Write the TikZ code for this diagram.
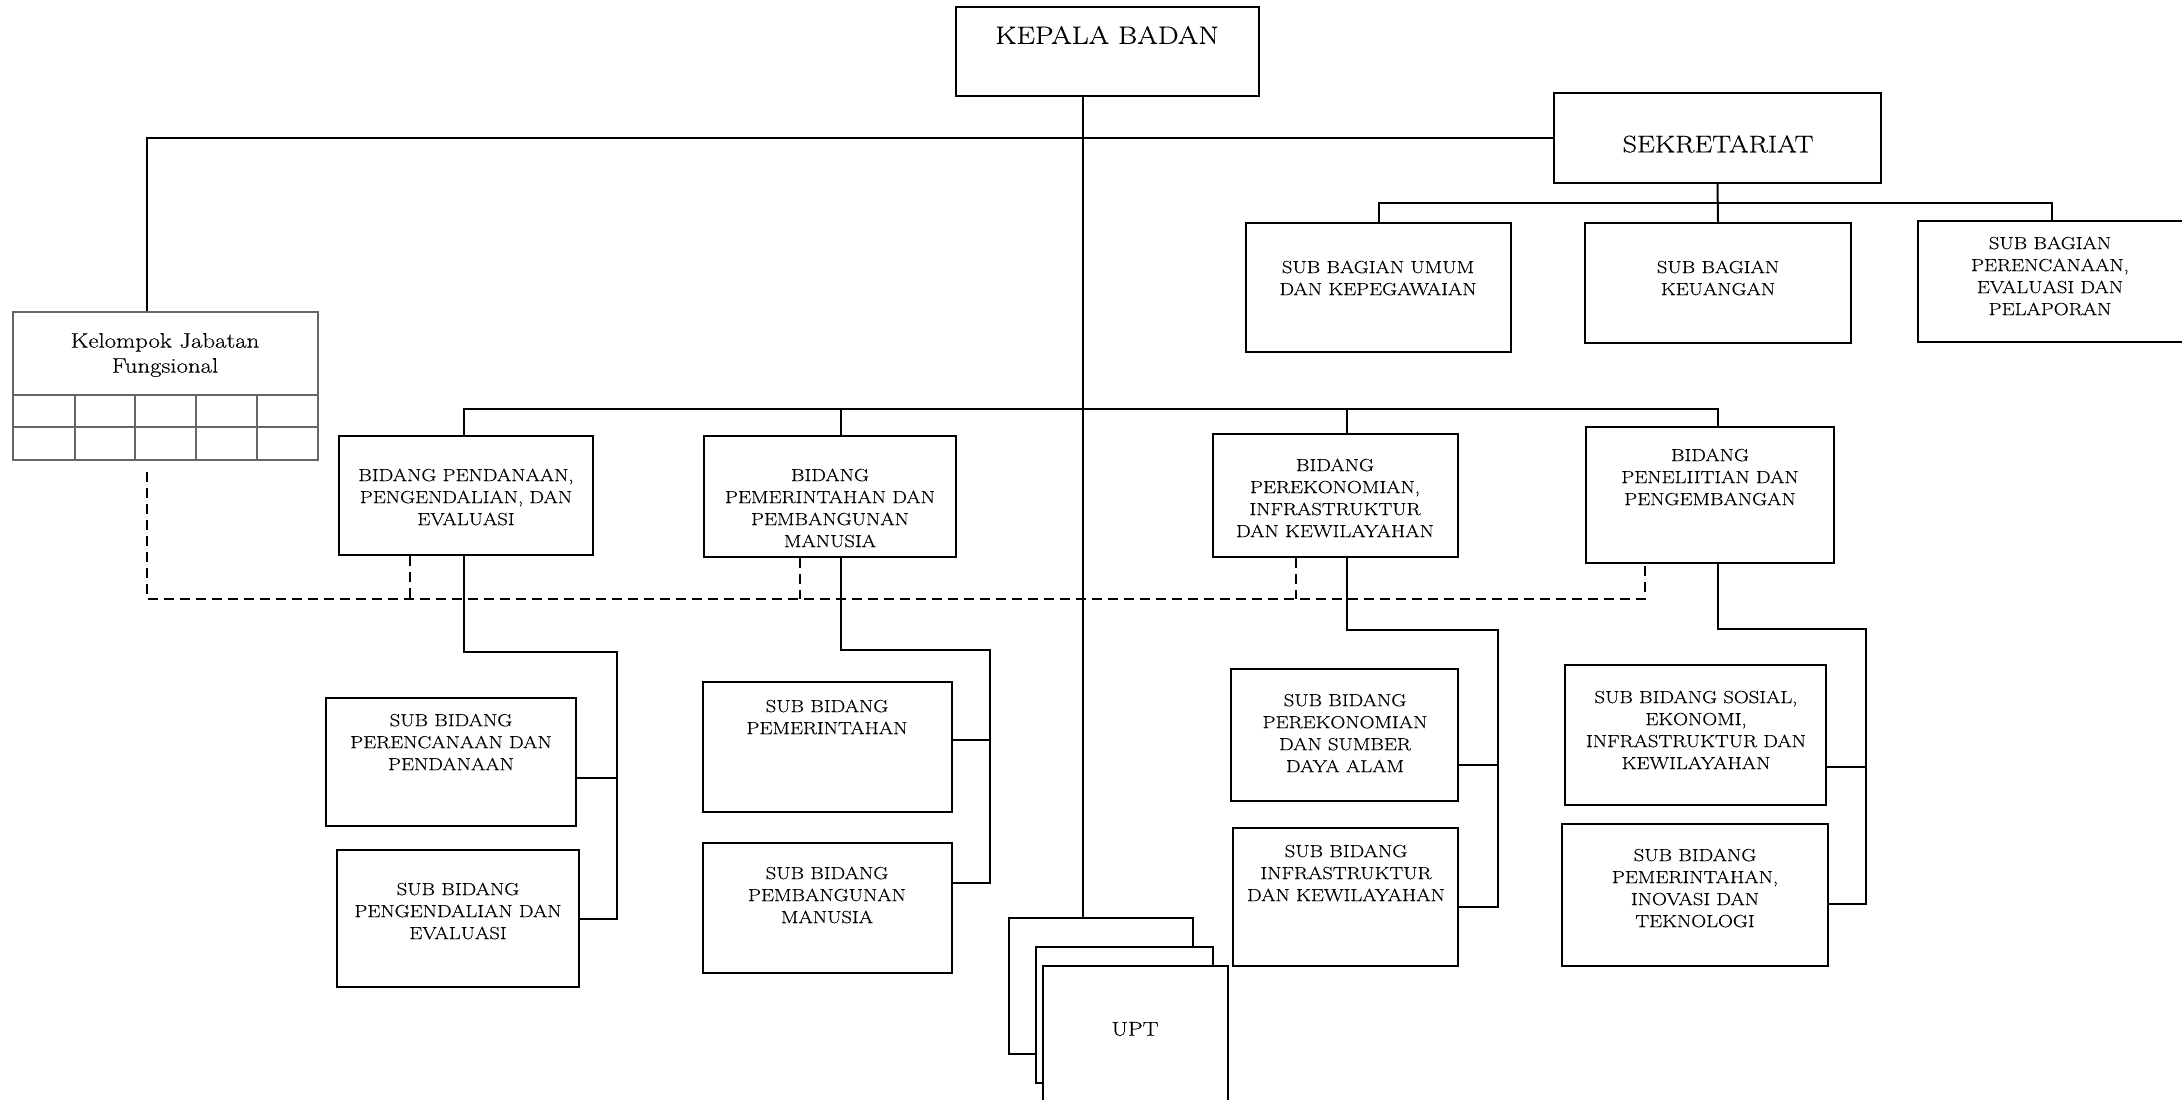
\documentclass[tikz,border=0pt]{standalone}
\usepackage{fontspec}
\setmainfont{Latin Modern Roman}[FakeStretch=1.18, FakeBold=0.35]
\begin{document}
\begin{tikzpicture}[x=1pt,y=-1pt,
  box/.style={draw, line width=2pt, rectangle, inner sep=0pt, fill=white},
  txt/.style={align=center, inner sep=0pt, font=\fontsize{17.5}{22}\selectfont},
  conn/.style={line width=2pt},
  dline/.style={line width=2pt, dash pattern=on 10pt off 6pt},
  gridln/.style={draw=black!60, line width=1.5pt}]
\useasboundingbox (0,0) rectangle (2182,1100);

% top level
\node[box, minimum width=303pt, minimum height=89pt] (kepala) at (1107.5,51.5) {};
\node[txt, font=\fontsize{25}{30}\selectfont] (tkepala) at (1107,35) {KEPALA BADAN};
\node[box, minimum width=327pt, minimum height=90pt] (sek) at (1717.5,138) {};
\node[txt, font=\fontsize{24}{30}\selectfont] (tsek) at (1718,144) {SEKRETARIAT};

% sub bagian
\node[box, minimum width=265pt, minimum height=129pt] (sbumum) at (1378.5,287.5) {};
\node[txt] (tsbumum) at (1378,278) {SUB BAGIAN UMUM\\DAN KEPEGAWAIAN};
\node[box, minimum width=266pt, minimum height=120pt] (sbkeu) at (1718,283) {};
\node[txt] (tsbkeu) at (1718,278) {SUB BAGIAN\\KEUANGAN};
\node[box, minimum width=268pt, minimum height=121pt] (sbper) at (2052,281.5) {};
\node[txt] (tsbper) at (2050,276) {SUB BAGIAN\\PERENCANAAN,\\EVALUASI DAN\\PELAPORAN};

% kelompok jabatan fungsional
\node[gridln, minimum width=305pt, minimum height=148pt, inner sep=0pt] (kelompok) at (165.5,386) {};
\draw[gridln] (kelompok.west |- 0,395) -- (kelompok.east |- 0,395);
\draw[gridln] (kelompok.west |- 0,427) -- (kelompok.east |- 0,427);
\foreach \cx in {75,135,196,257} \draw[gridln] (\cx,395) -- (\cx,460);
\node[txt, font=\fontsize{21}{25}\selectfont] (tkelompok) at (165,355) {Kelompok Jabatan\\Fungsional};

% bidang
\node[box, minimum width=254pt, minimum height=119pt] (b1) at (466,495.5) {};
\node[txt] (tb1) at (466,497) {BIDANG PENDANAAN,\\PENGENDALIAN, DAN\\EVALUASI};
\node[box, minimum width=252pt, minimum height=121pt] (b2) at (830,496.5) {};
\node[txt] (tb2) at (830,508) {BIDANG\\PEMERINTAHAN DAN\\PEMBANGUNAN\\MANUSIA};
\node[box, minimum width=245pt, minimum height=123pt] (b3) at (1335.5,495.5) {};
\node[txt] (tb3) at (1335,498) {BIDANG\\PEREKONOMIAN,\\INFRASTRUKTUR\\DAN KEWILAYAHAN};
\node[box, minimum width=248pt, minimum height=136pt] (b4) at (1710,495) {};
\node[txt] (tb4) at (1710,477) {BIDANG\\PENELIITIAN DAN\\PENGEMBANGAN};

% sub bidang
\node[box, minimum width=250pt, minimum height=128pt] (s11) at (451,762) {};
\node[txt] (ts11) at (451,742) {SUB BIDANG\\PERENCANAAN DAN\\PENDANAAN};
\node[box, minimum width=242pt, minimum height=137pt] (s12) at (458,918.5) {};
\node[txt] (ts12) at (458,911) {SUB BIDANG\\PENGENDALIAN DAN\\EVALUASI};
\node[box, minimum width=249pt, minimum height=130pt] (s21) at (827.5,747) {};
\node[txt] (ts21) at (827,717) {SUB BIDANG\\PEMERINTAHAN};
\node[box, minimum width=249pt, minimum height=130pt] (s22) at (827.5,908) {};
\node[txt] (ts22) at (827,895) {SUB BIDANG\\PEMBANGUNAN\\MANUSIA};
\node[box, minimum width=227pt, minimum height=132pt] (s31) at (1344.5,735) {};
\node[txt] (ts31) at (1345,733) {SUB BIDANG\\PEREKONOMIAN\\DAN SUMBER\\DAYA ALAM};
\node[box, minimum width=225pt, minimum height=138pt] (s32) at (1345.5,897) {};
\node[txt] (ts32) at (1346,873) {SUB BIDANG\\INFRASTRUKTUR\\DAN KEWILAYAHAN};
\node[box, minimum width=261pt, minimum height=140pt] (s41) at (1695.5,735) {};
\node[txt] (ts41) at (1696,730) {SUB BIDANG SOSIAL,\\EKONOMI,\\INFRASTRUKTUR DAN\\KEWILAYAHAN};
\node[box, minimum width=266pt, minimum height=142pt] (s42) at (1695,895) {};
\node[txt] (ts42) at (1695,888) {SUB BIDANG\\PEMERINTAHAN,\\INOVASI DAN\\TEKNOLOGI};

% UPT stack
\node[box, minimum width=184pt, minimum height=136pt] (upt1) at (1101,986) {};
\node[box, minimum width=177pt, minimum height=136pt] (upt2) at (1124.5,1015) {};
\node[box, minimum width=185pt, minimum height=144pt] (upt3) at (1135.5,1038) {};
\node[txt, font=\fontsize{20}{24}\selectfont] (tupt) at (1135,1029) {UPT};

% connectors
\coordinate (tk) at (1083,0);
\draw[conn] (kepala.south -| tk) -- (upt1.north -| tk);
\coordinate (kx) at (147,0);
\draw[conn] (sek.west) -| (kelompok.north -| kx);

\coordinate (sb) at (0,203);
\draw[conn] (sbumum.north) |- (sbper.north |- sb) -- (sbper.north);
\draw[conn] (sek.south) -- (sbkeu.north);

\coordinate (bb) at (0,409);
\draw[conn] ([xshift=-2pt]b1.north) |- ([xshift=8pt]b4.north |- bb) -- ([xshift=8pt]b4.north);
\draw[conn] ([xshift=11pt]b2.north) -- ([xshift=11pt]b2.north |- bb);
\draw[conn] ([xshift=11.5pt]b3.north) -- ([xshift=11.5pt]b3.north |- bb);

\coordinate (c1) at (617,652);
\draw[conn] ([xshift=-2pt]b1.south) |- (c1) -- (c1 |- s12.east) -- (s12.east);
\draw[conn] ([yshift=-16pt]s11.east) -- ([yshift=-16pt]s11.east -| c1);

\coordinate (c2) at (990,650);
\draw[conn] ([xshift=11pt]b2.south) |- (c2) -- (c2 |- 0,883) -- ([yshift=25pt]s22.east);
\draw[conn] ([yshift=7pt]s21.east) -- ([yshift=7pt]s21.east -| c2);

\coordinate (c3) at (1498,630);
\draw[conn] ([xshift=11.5pt]b3.south) |- (c3) -- (c3 |- 0,907) -- ([yshift=-10pt]s32.east);
\draw[conn] ([yshift=-30pt]s31.east) -- ([yshift=-30pt]s31.east -| c3);

\coordinate (c4) at (1866,629);
\draw[conn] ([xshift=8pt]b4.south) |- (c4) -- (c4 |- 0,904) -- ([yshift=-9pt]s42.east);
\draw[conn] ([yshift=-32pt]s41.east) -- ([yshift=-32pt]s41.east -| c4);

% dashed coordination lines
\coordinate (dstart) at (147,472);
\coordinate (dcorner) at (147,599);
\draw[dline] (dstart) -- (dcorner) -| ([xshift=-65pt]b4.south);
\draw[dline] ([xshift=-56pt]b1.south) -- ([xshift=-56pt]b1.south |- dcorner);
\draw[dline] ([xshift=-30pt]b2.south) -- ([xshift=-30pt]b2.south |- dcorner);
\draw[dline] ([xshift=-39.5pt]b3.south) -- ([xshift=-39.5pt]b3.south |- dcorner);
\end{tikzpicture}
\end{document}
